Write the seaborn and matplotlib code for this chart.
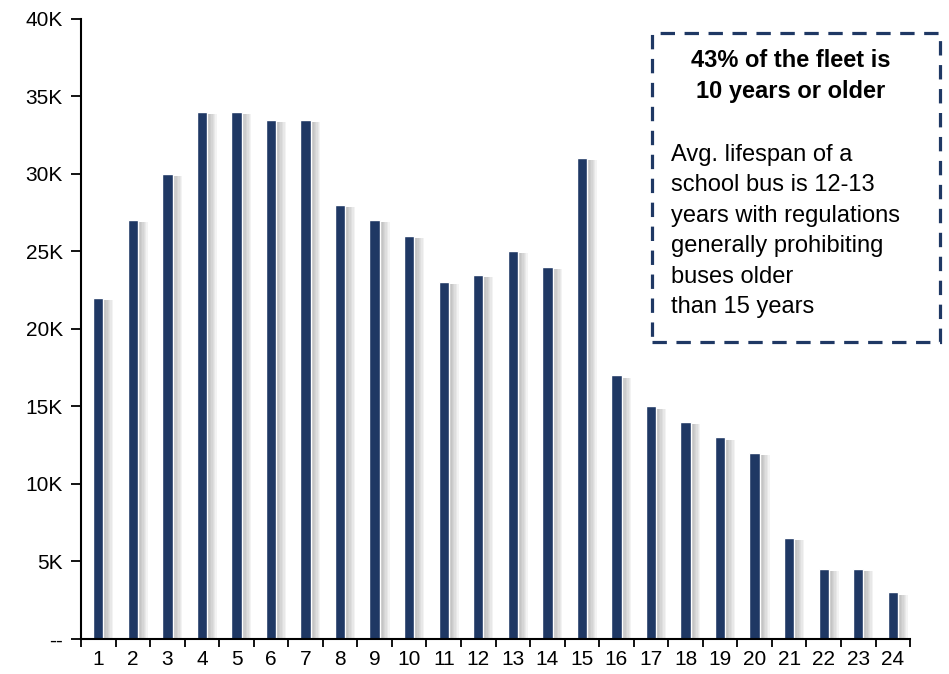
import matplotlib
matplotlib.use("Agg")
import matplotlib.pyplot as plt
import matplotlib.patheffects as pe
from matplotlib.patches import Rectangle
import numpy as np
import pandas as pd
import seaborn as sns

# fleet count by bus age (years), in thousands
ages = [str(i) for i in range(1, 25)]
buses_k = [22, 27, 30, 34, 34, 33.5, 33.5, 28, 27, 26, 23, 23.5,
           25, 24, 31, 17, 15, 14, 13, 12, 6.5, 4.5, 4.5, 3]
ytick_vals = [0, 5, 10, 15, 20, 25, 30, 35, 40]
ytick_labels = ["--", "5K", "10K", "15K", "20K", "25K", "30K", "35K", "40K"]

callout_title = "43% of the fleet is\n10 years or older"
callout_body = ("Avg. lifespan of a\nschool bus is 12-13\nyears with regulations\n"
                "generally prohibiting\nbuses older\nthan 15 years")

navy = "#1F3864"

sns.set_style("white")
plt.rcParams["font.family"] = ["Liberation Sans", "DejaVu Sans"]
plt.rcParams["text.color"] = "black"
plt.rcParams["xtick.color"] = "black"
plt.rcParams["ytick.color"] = "black"

df = pd.DataFrame({"age": ages, "buses": buses_k})

fig = plt.figure(figsize=(9.49, 6.74), dpi=100)
ax = fig.add_axes([0.0854, 0.052, 0.8736, 0.920])

sns.barplot(data=df, x="age", y="buses", order=ages, color=navy,
            saturation=1, width=0.3, ax=ax)

# soft grey shadow to the right of each bar
shadow = [pe.SimplePatchShadow(offset=(d, -1.5), shadow_rgbFace="#606060", alpha=0.07)
          for d in (1, 2, 3, 4, 5, 6, 7)]
for bar in ax.patches:
    bar.set_path_effects(shadow + [pe.Normal()])

ax.set_xlim(-0.5, len(ages) - 0.5)
ax.set_ylim(0, 40)
ax.set_xlabel("")
ax.set_ylabel("")

# tick marks on category boundaries, labels at centers
ax.set_xticks(np.arange(len(ages) + 1) - 0.5)
ax.set_xticklabels([])
ax.set_xticks(np.arange(len(ages)), minor=True)
ax.set_xticklabels(ages, minor=True, fontsize=15)
ax.tick_params(axis="x", which="major", direction="out", length=6, width=1.3, color="black", bottom=True)
ax.tick_params(axis="x", which="minor", length=0, pad=8)

ax.set_yticks(ytick_vals)
ax.set_yticklabels(ytick_labels, fontsize=15)
ax.tick_params(axis="y", direction="out", length=7, width=1.3, color="black", left=True, pad=6)

for s in ["top", "right"]:
    ax.spines[s].set_visible(False)
for s in ["left", "bottom"]:
    ax.spines[s].set_color("black")
    ax.spines[s].set_linewidth(1.5)

# dashed callout box
box = Rectangle((0.687, 0.493), 0.303, 0.458, transform=fig.transFigure,
                fill=False, edgecolor=navy, linewidth=2.3, linestyle=(0, (4.5, 3)))
fig.patches.append(box)
fig.text(0.833, 0.928, callout_title, ha="center", va="top", fontsize=17,
         fontweight="bold", linespacing=1.45)
fig.text(0.707, 0.787, callout_body, ha="left", va="top", fontsize=17,
         linespacing=1.5)

fig.savefig("out.png", dpi=100)
